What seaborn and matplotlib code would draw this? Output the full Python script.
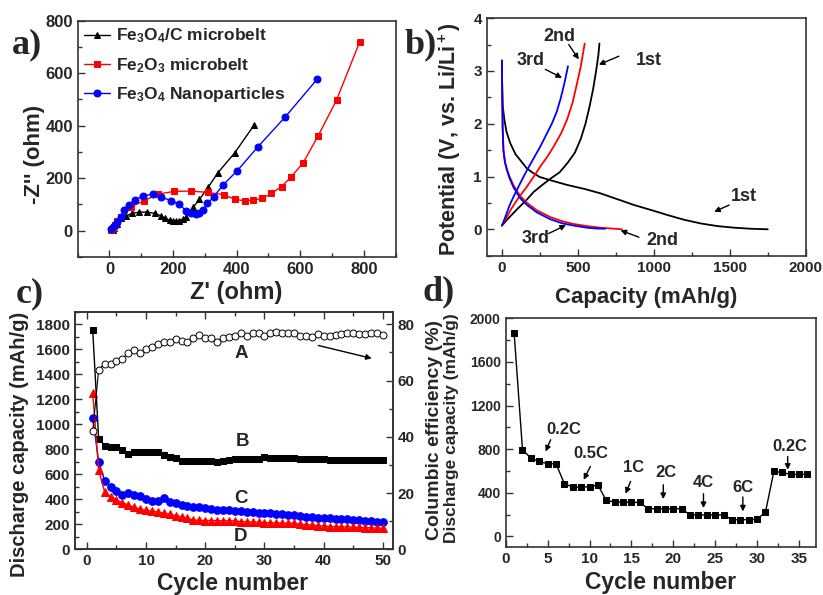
import matplotlib
matplotlib.use('Agg')
import matplotlib.pyplot as plt
import matplotlib.ticker as ticker
import seaborn as sns

# ---- a) Nyquist plots ----
fe3o4c_zre = [10, 15, 24, 37, 53, 72, 93, 118, 142, 161, 175, 189, 200, 210, 220, 231, 242, 263, 283, 310, 341, 394, 455]
fe3o4c_zim = [4, 12, 25, 47, 57, 66, 71, 71, 66, 57, 47, 40, 36, 36, 38, 45, 53, 89, 120, 165, 221, 297, 403]
fe2o3_zre = [5, 10, 16, 25, 37, 68, 108, 152, 203, 255, 310, 360, 394, 425, 452, 481, 509, 541, 572, 609, 656, 714, 787]
fe2o3_zim = [3, 12, 22, 36, 53, 91, 114, 139, 150, 151, 146, 137, 120, 114, 117, 123, 142, 168, 206, 259, 361, 498, 720]
nano_zre = [5, 14, 24, 35, 47, 61, 79, 105, 137, 163, 192, 218, 242, 257, 271, 283, 294, 308, 328, 357, 402, 467, 553, 653]
nano_zim = [6, 18, 34, 53, 79, 98, 117, 132, 140, 130, 114, 102, 75, 66, 64, 69, 79, 104, 130, 174, 229, 320, 434, 577]

# ---- b) charge / discharge profiles ----
dis1_cap = [0, 5, 15, 30, 55, 90, 121, 165, 209, 250, 319, 430, 550, 650, 750, 870, 1000, 1090, 1200, 1310, 1420, 1530, 1640, 1750]
dis1_v = [2.9, 2.35, 2.1, 1.85, 1.63, 1.42, 1.31, 1.15, 1.06, 0.99, 0.93, 0.84, 0.76, 0.68, 0.58, 0.46, 0.35, 0.27, 0.18, 0.11, 0.06, 0.03, 0.01, 0.0]
chg1_cap = [0, 40, 100, 160, 210, 270, 320, 380, 430, 480, 520, 550, 575, 600, 620, 635, 642]
chg1_v = [0.07, 0.2, 0.38, 0.55, 0.71, 0.85, 0.96, 1.08, 1.25, 1.45, 1.72, 2.0, 2.3, 2.65, 3.0, 3.3, 3.52]
dis2_cap = [0, 2, 5, 10, 20, 32, 50, 77, 120, 165, 230, 319, 400, 473, 560, 649, 720, 790]
dis2_v = [3.2, 2.6, 1.9, 1.5, 1.28, 1.15, 1.0, 0.83, 0.63, 0.5, 0.36, 0.23, 0.15, 0.1, 0.06, 0.03, 0.015, 0.0]
chg2_cap = [0, 30, 60, 110, 165, 210, 253, 300, 341, 390, 429, 465, 495, 520, 545]
chg2_v = [0.07, 0.22, 0.38, 0.6, 0.81, 1.0, 1.19, 1.38, 1.57, 1.82, 2.08, 2.4, 2.77, 3.1, 3.52]
dis3_cap = [0, 2, 5, 10, 20, 32, 50, 77, 120, 165, 230, 319, 400, 473, 560, 620, 680]
dis3_v = [3.2, 2.6, 1.9, 1.5, 1.27, 1.13, 0.97, 0.79, 0.59, 0.46, 0.32, 0.19, 0.11, 0.07, 0.03, 0.015, 0.01]
chg3_cap = [0, 22, 50, 77, 120, 165, 210, 253, 290, 330, 360, 385, 410, 435]
chg3_v = [0.07, 0.23, 0.45, 0.62, 0.87, 1.12, 1.35, 1.57, 1.78, 2.01, 2.22, 2.46, 2.75, 3.09]

# ---- c) cycling ----
cycles_c = list(range(1, 51))
eff_a = [41.9, 63.9, 66, 66, 66.8, 67.8, 69.9, 70.8, 69.9, 71.1, 72, 73, 73.8, 73.8, 74.9, 74.1, 73.8, 75, 76.2, 75,
         75, 73.8, 75, 75.6, 76, 76.9, 76, 76.9, 76.9, 75.8, 76.9, 77.3, 77, 76.8, 77, 76, 76, 75.5, 76.5, 76,
         76, 76.3, 76.5, 76.8, 76.8, 76.5, 76.5, 76.8, 76.8, 76.3]
cap_b = [1750, 885, 830, 820, 820, 795, 765, 780, 780, 780, 780, 780, 755, 740, 730, 710, 705, 705, 705, 705,
         705, 695, 705, 715, 720, 720, 720, 720, 725, 740, 730, 730, 728, 728, 728, 725, 722, 720, 720, 720,
         718, 715, 715, 712, 712, 712, 712, 712, 712, 712]
cap_c = [1050, 701, 549, 496, 469, 434, 448, 434, 426, 400, 389, 389, 408, 381, 373, 354, 345, 340, 335, 328,
         322, 318, 314, 311, 309, 310, 302, 298, 293, 290, 287, 284, 280, 277, 275, 268, 262, 258, 254, 250,
         248, 245, 242, 240, 238, 232, 228, 224, 220, 215]
cap_d = [1250, 634, 461, 421, 394, 373, 354, 336, 320, 312, 305, 300, 288, 280, 270, 261, 248, 234, 232, 230,
         230, 229, 228, 228, 228, 221, 220, 218, 216, 214, 212, 211, 210, 209, 208, 200, 196, 194, 190, 186,
         182, 181, 180, 179, 178, 176, 174, 172, 170, 168]

# ---- d) rate capability ----
cycles_d = list(range(1, 37))
cap_rate = [1868, 794, 718, 687, 666, 666, 483, 452, 452, 455, 470, 330, 315, 315, 312, 312, 254, 254, 254, 254,
            254, 196, 196, 196, 196, 196, 153, 153, 153, 157, 223, 595, 586, 568, 568, 570]
rate_labels = ['0.2C', '0.5C', '1C', '2C', '4C', '6C', '0.2C']

sns.set_style('ticks')
plt.rcParams['font.family'] = ['Liberation Sans', 'DejaVu Sans']
plt.rcParams['font.weight'] = 'bold'
plt.rcParams['axes.labelweight'] = 'bold'
plt.rcParams['mathtext.fontset'] = 'custom'
plt.rcParams['mathtext.rm'] = 'Liberation Sans:bold'
plt.rcParams['mathtext.it'] = 'Liberation Sans:bold'
plt.rcParams['mathtext.bf'] = 'Liberation Sans:bold'
plt.rcParams['mathtext.default'] = 'bf'

fig = plt.figure(figsize=(8.23, 5.95), dpi=100)
ax_a = fig.add_axes([0.0944, 0.5681, 0.3864, 0.3971])
ax_b = fig.add_axes([0.5914, 0.5703, 0.3876, 0.3991])
ax_c = fig.add_axes([0.0911, 0.0768, 0.3864, 0.3993])
ax_d = fig.add_axes([0.6145, 0.0802, 0.3767, 0.3849])

ARROW = dict(arrowstyle='-|>', color='black', lw=1, mutation_scale=8, shrinkA=0, shrinkB=0)


def style_axes(ax, top=False, right=False, size=11):
    for s in ax.spines.values():
        s.set_visible(True)
        s.set_color('#333333')
        s.set_linewidth(1.2)
    ax.tick_params(which='both', direction='in', top=top, right=right,
                   color='#333333', width=1, labelsize=size)
    ax.tick_params(which='major', length=5)
    ax.tick_params(which='minor', length=3)


def place_label(axis, x, y, size):
    axis.set_label_coords(x, y)
    axis.label.set_fontsize(size)
    axis.label.set_va('center')
    axis.label.set_ha('center')


# a)
sns.lineplot(x=fe3o4c_zre, y=fe3o4c_zim, ax=ax_a, color='black', marker='^', markersize=5,
             markeredgecolor='black', linewidth=1, sort=False, estimator=None, label='Fe$_3$O$_4$/C microbelt')
sns.lineplot(x=fe2o3_zre, y=fe2o3_zim, ax=ax_a, color='red', marker='s', markersize=4.5,
             markeredgecolor='red', linewidth=1, sort=False, estimator=None, label='Fe$_2$O$_3$ microbelt')
sns.lineplot(x=nano_zre, y=nano_zim, ax=ax_a, color='blue', marker='o', markersize=5,
             markeredgecolor='blue', linewidth=1, sort=False, estimator=None, label='Fe$_3$O$_4$ Nanoparticles')
ax_a.set_xlim(-100, 900)
ax_a.set_ylim(-100, 800)
ax_a.xaxis.set_major_locator(ticker.MultipleLocator(200))
ax_a.xaxis.set_minor_locator(ticker.MultipleLocator(100))
ax_a.yaxis.set_major_locator(ticker.MultipleLocator(200))
ax_a.yaxis.set_minor_locator(ticker.MultipleLocator(100))
style_axes(ax_a, size=12)
ax_a.set_xlabel("Z' (ohm)")
ax_a.set_ylabel("-Z'' (ohm)")
place_label(ax_a.xaxis, 0.498, -0.152, 17)
place_label(ax_a.yaxis, -0.135, 0.432, 16)
ax_a.legend(loc='upper left', frameon=False, fontsize=12.5, handlelength=1.5, handletextpad=0.35,
            labelspacing=0.6, borderaxespad=0.15, borderpad=0.2)

# b)
for cap, v, col in [(dis1_cap, dis1_v, 'black'), (chg1_cap, chg1_v, 'black'),
                    (dis2_cap, dis2_v, 'red'), (chg2_cap, chg2_v, 'red'),
                    (dis3_cap, dis3_v, 'blue'), (chg3_cap, chg3_v, 'blue')]:
    sns.lineplot(x=cap, y=v, ax=ax_b, color=col, linewidth=1.3, sort=False, estimator=None)
ax_b.set_xlim(-100, 2000)
ax_b.set_ylim(-0.5, 4)
ax_b.xaxis.set_major_locator(ticker.MultipleLocator(500))
ax_b.xaxis.set_minor_locator(ticker.MultipleLocator(250))
ax_b.yaxis.set_major_locator(ticker.MultipleLocator(1))
ax_b.yaxis.set_minor_locator(ticker.MultipleLocator(0.5))
style_axes(ax_b, size=11)
ax_b.set_xlabel('Capacity (mAh/g)')
ax_b.set_ylabel('Potential (V, vs. Li/Li$^+$)')
place_label(ax_b.xaxis, 0.499, -0.178, 16)
place_label(ax_b.yaxis, -0.115, 0.491, 15.5)
for txt, tpos, a0, a1 in [('2nd', (381, 3.66), (440, 3.5), (506, 3.22)),
                          ('1st', (968, 3.19), (770, 3.28), (638, 3.12)),
                          ('3rd', (187, 3.19), (286, 3.03), (396, 2.87)),
                          ('1st', (1595, 0.62), (1496, 0.46), (1397, 0.33)),
                          ('3rd', (220, -0.18), (308, -0.08), (422, 0.08)),
                          ('2nd', (1056, -0.21), (902, -0.15), (781, -0.02))]:
    ax_b.text(tpos[0], tpos[1], txt, fontsize=13, fontweight='bold', ha='center', va='center')
    ax_b.annotate('', xy=a1, xytext=a0, arrowprops=ARROW)

# c)
ax_c2 = ax_c.twinx()
sns.lineplot(x=cycles_c, y=cap_b, ax=ax_c, color='black', marker='s', markersize=4.5,
             markeredgecolor='black', linewidth=1, sort=False, estimator=None)
sns.lineplot(x=cycles_c, y=cap_c, ax=ax_c, color='blue', marker='o', markersize=5.5,
             markeredgecolor='blue', linewidth=1, sort=False, estimator=None)
sns.lineplot(x=cycles_c, y=cap_d, ax=ax_c, color='red', marker='^', markersize=5.5,
             markeredgecolor='red', linewidth=1, sort=False, estimator=None)
sns.lineplot(x=cycles_c, y=eff_a, ax=ax_c2, color='black', marker='o', markersize=5,
             markerfacecolor='white', markeredgecolor='black', markeredgewidth=0.7,
             linewidth=0.8, sort=False, estimator=None)
ax_c.set_xlim(-2, 51.7)
ax_c.set_ylim(0, 1900)
ax_c2.set_ylim(0, 84.5)
ax_c.xaxis.set_major_locator(ticker.MultipleLocator(10))
ax_c.xaxis.set_minor_locator(ticker.MultipleLocator(5))
ax_c.yaxis.set_major_locator(ticker.MultipleLocator(200))
ax_c.yaxis.set_minor_locator(ticker.MultipleLocator(100))
ax_c2.yaxis.set_major_locator(ticker.MultipleLocator(20))
ax_c2.yaxis.set_minor_locator(ticker.MultipleLocator(10))
style_axes(ax_c, top=True, size=11)
style_axes(ax_c2, top=True, right=True, size=11)
ax_c2.tick_params(which='both', left=False)
ax_c.set_xlabel('Cycle number')
ax_c.set_ylabel('Discharge capacity (mAh/g)')
ax_c2.set_ylabel('Columbic efficiency (%)')
place_label(ax_c.xaxis, 0.497, -0.142, 16.5)
place_label(ax_c.yaxis, -0.173, 0.443, 14.5)
place_label(ax_c2.yaxis, 1.129, 0.502, 14)
ax_c2.yaxis.label.set_rotation(90)
for txt, x, y in [('A', 26, 1568), ('B', 26.3, 861), ('C', 26, 408), ('D', 26, 101)]:
    ax_c.text(x, y, txt, fontsize=13.5, fontweight='bold', ha='center', va='center')
ax_c2.annotate('', xy=(48.1, 67.9), xytext=(39.1, 72.5), arrowprops=ARROW)

# d)
sns.lineplot(x=cycles_d, y=cap_rate, ax=ax_d, color='black', marker='s', markersize=4.5,
             markeredgecolor='black', linewidth=1, sort=False, estimator=None)
ax_d.set_xlim(0, 37)
ax_d.set_ylim(-100, 2000)
ax_d.xaxis.set_major_locator(ticker.MultipleLocator(5))
ax_d.xaxis.set_minor_locator(ticker.MultipleLocator(2.5))
ax_d.yaxis.set_major_locator(ticker.MultipleLocator(400))
ax_d.yaxis.set_minor_locator(ticker.MultipleLocator(200))
style_axes(ax_d, size=11)
ax_d.tick_params(axis='y', labelsize=10)
ax_d.set_xlabel('Cycle number')
ax_d.set_ylabel('Discharge capacity (mAh/g)')
place_label(ax_d.xaxis, 0.498, -0.152, 16.5)
place_label(ax_d.yaxis, -0.176, 0.521, 12.5)
rate_pos = [((6.9, 977), (5.36, 886), (4.76, 778)),
            ((10.1, 763), (10.1, 641), (9.3, 519)),
            ((15.2, 632), (14.9, 504), (14.3, 391)),
            ((19.1, 586), (18.8, 473), (18.8, 342)),
            ((23.6, 498), (23.6, 391), (23.6, 260)),
            ((28.3, 452), (28.3, 361), (28.3, 229)),
            ((33.9, 824), (33.65, 733), (33.65, 611))]
for txt, (tpos, a0, a1) in zip(rate_labels, rate_pos):
    ax_d.text(tpos[0], tpos[1], txt, fontsize=12, fontweight='bold', ha='center', va='center')
    ax_d.annotate('', xy=a1, xytext=a0, arrowprops=ARROW)

# panel letters
for letter, x, y in [('a)', 27, 45), ('b)', 421, 45), ('c)', 30, 294), ('d)', 439, 292)]:
    fig.text(x / 823, 1 - y / 595, letter, family='Liberation Serif', fontsize=26,
             fontweight='bold', ha='center', va='center')

fig.savefig('out.png', dpi=100)
